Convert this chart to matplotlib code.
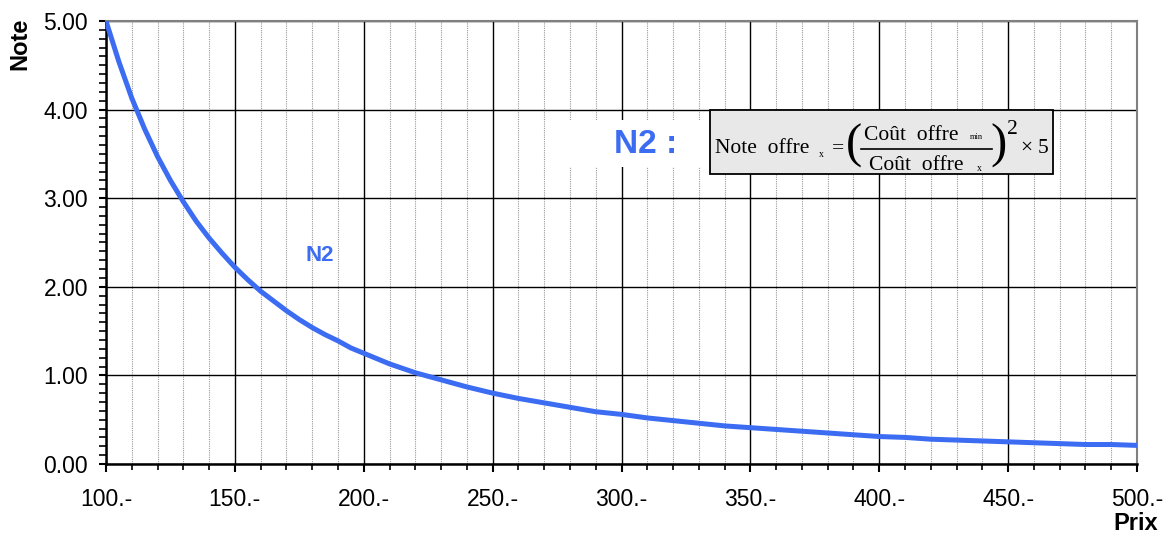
import matplotlib.pyplot as plt
from matplotlib.patches import Rectangle
from matplotlib.ticker import MultipleLocator, FuncFormatter

# -------------------------
# Data
# -------------------------
prix = [100, 105, 110, 115, 120, 125, 130, 135, 140, 145, 150, 155,
        160, 165, 170, 175, 180, 185, 190, 195,
        200, 210, 220, 230, 240, 250, 260, 270, 280, 290,
        300, 310, 320, 330, 340, 350, 360, 370, 380, 390,
        400, 410, 420, 430, 440, 450, 460, 470, 480, 490, 500]
note_n2 = [5.00, 4.54, 4.13, 3.78, 3.47, 3.20, 2.96, 2.74, 2.55, 2.38, 2.22, 2.08,
           1.95, 1.84, 1.73, 1.63, 1.54, 1.46, 1.39, 1.31,
           1.25, 1.13, 1.03, 0.95, 0.87, 0.80, 0.74, 0.69, 0.64, 0.59,
           0.56, 0.52, 0.49, 0.46, 0.43, 0.41, 0.39, 0.37, 0.35, 0.33,
           0.31, 0.30, 0.28, 0.27, 0.26, 0.25, 0.24, 0.23, 0.22, 0.22, 0.21]

blue = "#3b6cf2"
W, H = 1165, 536

plt.rcParams["font.family"] = ["Liberation Sans", "DejaVu Sans"]


def px(x, y):
    # pixel position (from top-left) -> figure fraction
    return x / W, 1 - y / H


fig = plt.figure(figsize=(W / 100, H / 100), dpi=100)
ax = fig.add_axes([106 / W, 1 - 464 / H, (1137 - 106) / W, (464 - 21) / H])

ax.plot(prix, note_n2, color=blue, lw=3.6, solid_capstyle="butt",
        solid_joinstyle="round", zorder=3)

ax.set_xlim(100, 500)
ax.set_ylim(0, 5)

ax.xaxis.set_major_locator(MultipleLocator(50))
ax.xaxis.set_minor_locator(MultipleLocator(10))
ax.yaxis.set_major_locator(MultipleLocator(1))
ax.yaxis.set_minor_locator(MultipleLocator(0.1))
ax.xaxis.set_major_formatter(FuncFormatter(lambda v, p: f"{v:.0f}.-"))
ax.yaxis.set_major_formatter(FuncFormatter(lambda v, p: f"{v:.2f}"))

ax.grid(which="major", axis="both", color="black", lw=1.0)
ax.grid(which="minor", axis="x", color="#999999", lw=0.8, ls=(0, (1, 1)))
ax.set_axisbelow(True)

ax.tick_params(which="both", direction="out", labelsize=16.5)
ax.tick_params(axis="x", which="major", length=5.5, width=1.5, pad=12)
ax.tick_params(axis="x", which="minor", length=4.5, width=1.2)
ax.tick_params(axis="y", which="major", length=5, width=1.5, pad=8)
ax.tick_params(axis="y", which="minor", length=5, width=1.2)

for side in ["left", "bottom"]:
    ax.spines[side].set_linewidth(1.8)
    ax.spines[side].set_color("black")
for side in ["top", "right"]:
    ax.spines[side].set_linewidth(1.5)
    ax.spines[side].set_color("#808080")

fig.text(*px(20, 44), "Note", rotation=90, fontsize=17,
         fontweight="bold", ha="center", va="center")
fig.text(*px(1158, 523), "Prix", fontsize=17,
         fontweight="bold", ha="right", va="center")

ax.text(183, 2.35, "N2", color=blue, fontsize=16, fontweight="bold",
        ha="center", va="center")

# white patch behind the "N2 :" title
ax.add_patch(Rectangle(px(555, 167), 150 / W, 47 / H, transform=fig.transFigure,
                       facecolor="white", edgecolor="none", zorder=1))
fig.text(*px(646, 145), "N2 :", color=blue, fontsize=24, fontweight="bold",
         ha="center", va="center", zorder=4)

# formula box
fig.patches.append(Rectangle(px(710, 174), 343 / W, 64 / H,
                             transform=fig.transFigure, facecolor="#e8e8e8",
                             edgecolor="black", lw=1.3, zorder=4))
serif = "Liberation Serif"
fs = 15.5
fig.text(*px(715, 153), "Note  offre", family=serif, fontsize=fs,
         ha="left", va="baseline", zorder=5)
fig.text(*px(819, 157), "x", family=serif, fontsize=7,
         ha="left", va="baseline", zorder=5)
fig.text(*px(838, 153), "=", family=serif, fontsize=fs,
         ha="center", va="baseline", zorder=5)
fig.text(*px(854, 146), "(", family=serif, fontsize=35,
         ha="center", va="center", zorder=5)
fig.text(*px(864, 140), "Coût  offre", family=serif, fontsize=fs,
         ha="left", va="baseline", zorder=5)
fig.text(*px(970, 139), "min", family=serif, fontsize=6,
         ha="left", va="baseline", zorder=5)
fig.lines.append(plt.Line2D([861 / W, 992 / W], [1 - 149 / H, 1 - 149 / H],
                            transform=fig.transFigure, color="black", lw=1.2,
                            zorder=5))
fig.text(*px(869, 170), "Coût  offre", family=serif, fontsize=fs,
         ha="left", va="baseline", zorder=5)
fig.text(*px(977, 171), "x", family=serif, fontsize=7,
         ha="left", va="baseline", zorder=5)
fig.text(*px(998, 146), ")", family=serif, fontsize=35,
         ha="center", va="center", zorder=5)
fig.text(*px(1007, 134), "2", family=serif, fontsize=fs,
         ha="left", va="baseline", zorder=5)
fig.text(*px(1026, 153), "×", family=serif, fontsize=fs,
         ha="center", va="baseline", zorder=5)
fig.text(*px(1038, 153), "5", family=serif, fontsize=fs,
         ha="left", va="baseline", zorder=5)

fig.savefig("out.png", dpi=100)
